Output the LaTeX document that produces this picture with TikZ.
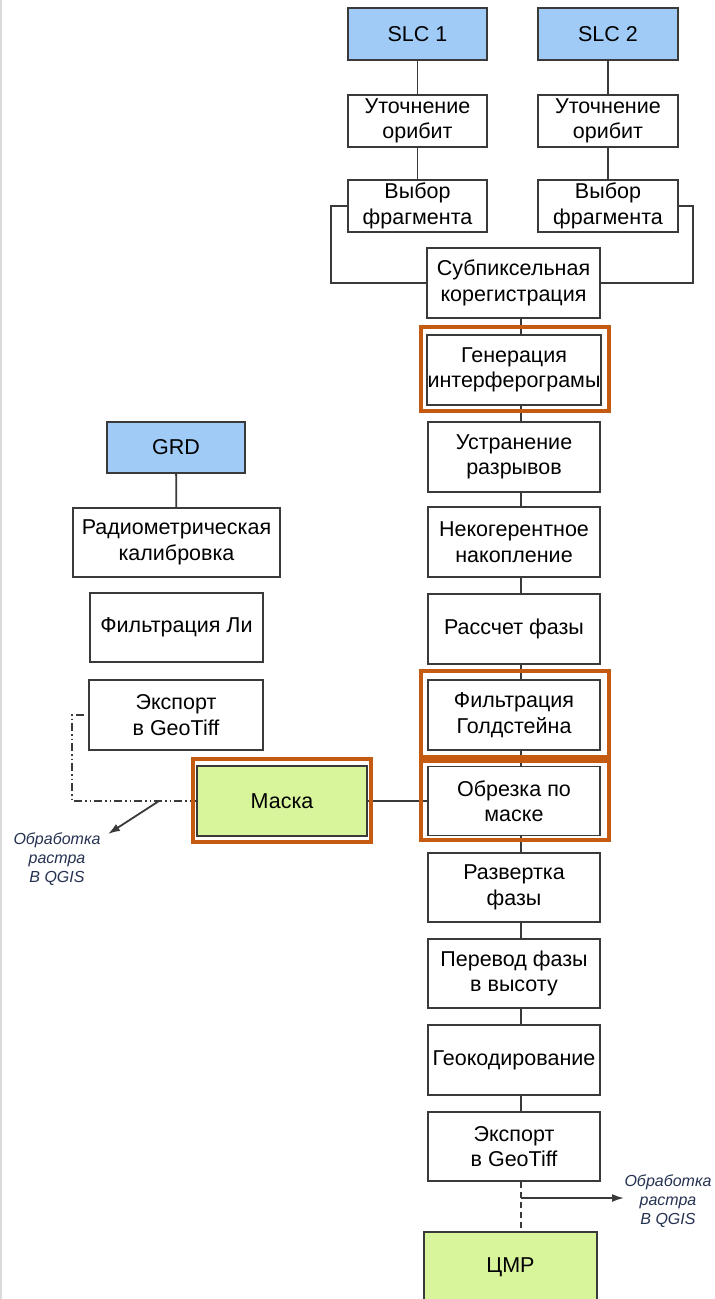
\documentclass[tikz,border=0pt]{standalone}
\usepackage{fontspec}
\setmainfont{Liberation Sans}
\usetikzlibrary{arrows.meta}
\definecolor{blu}{HTML}{A0CBF7}
\definecolor{grn}{HTML}{D8F59C}
\definecolor{org}{HTML}{C55A11}
\definecolor{edge}{HTML}{3A3A3A}
\definecolor{lbl}{HTML}{263252}
\begin{document}
\begin{tikzpicture}[x=1pt,y=-1pt,
  box/.style={draw=edge, line width=1.8pt, fill=white, align=center, inner sep=0pt,
              font=\fontsize{21.5}{25.5}\selectfont, text=black},
  wh/.style 2 args={minimum width=#1, minimum height=#2},
  src/.style={box, fill=blu},
  res/.style={box, fill=grn},
  hl/.style={draw=org, line width=3.2pt, inner sep=0pt},
  link/.style={draw=edge, line width=1.8pt},
  dd/.style={link, dash pattern=on 8pt off 3pt on 1.5pt off 3pt on 1.5pt off 3pt},
  dsh/.style={link, dash pattern=on 6pt off 4pt},
  arr/.style={link, -{Latex[length=12pt,width=8pt]}},
  note/.style={font=\fontsize{16}{19}\selectfont\itshape, text=lbl, align=center, inner sep=0pt},
]
\clip (0,0) rectangle (715,1299);
\fill[white] (0,0) rectangle (715,1299);
\draw[draw=black!15, line width=2pt] (1,0) -- (1,1299);

% top branches
\node[src, wh={139}{52}] (slc1) at (417.5,34) {SLC 1};
\node[src, wh={140}{52}] (slc2) at (608,34) {SLC 2};
\node[box, wh={139}{52}] (ut1) at (417.5,121) {Уточнение\\орибит};
\node[box, wh={140}{52}] (ut2) at (608,121) {Уточнение\\орибит};
\node[box, wh={139}{52}] (vb1) at (417.5,206) {Выбор\\фрагмента};
\node[box, wh={140}{52}] (vb2) at (608,206) {Выбор\\фрагмента};

% main column
\coordinate (mx) at (521,0);
\node[box, wh={173}{70}] (sub) at (513.5,283) {Субпиксельная\\корегистрация};
\node[box, wh={174}{70}] (gen) at (514,370) {Генерация\\интерферограмы};
\node[box, wh={172}{70}] (ust) at (514,457) {Устранение\\разрывов};
\node[box, wh={172}{70}] (nak) at (514,542) {Некогерентное\\накопление};
\node[box, wh={172}{70}] (ph) at (514,629) {Рассчет фазы};
\node[box, wh={172}{70}] (gold) at (514,715) {Фильтрация\\Голдстейна};
\node[box, wh={172}{69}] (cut) at (514,801) {Обрезка по\\маске};
\node[box, wh={172}{69}] (unw) at (514,887.5) {Развертка\\фазы};
\node[box, wh={172}{69}] (h2h) at (514,973.5) {Перевод фазы\\в высоту};
\node[box, wh={172}{70}] (geo) at (514,1060) {Геокодирование};
\node[box, wh={172}{69}] (exR) at (514,1146.5) {Экспорт\\в GeoTiff};
\node[res, wh={173}{70}] (dmr) at (510.5,1267) {ЦМР};

% left column
\node[src, wh={138}{51}] (grd) at (176,447.5) {GRD};
\node[box, wh={207}{69}] (rad) at (176.5,542.5) {Радиометрическая\\калибровка};
\node[box, wh={173}{69}] (li) at (176.5,627.5) {Фильтрация Ли};
\node[box, wh={174}{70}] (exL) at (176,715) {Экспорт\\в GeoTiff};
\node[res, wh={170}{70}] (mask) at (282,801) {Маска};

% labels
\node[note] (qL) at (57,859) {Обработка\\растра\\В QGIS};
\node[note] (qR) at (668,1201) {Обработка\\растра\\В QGIS};

% connectors
\draw[link] (slc1) -- (ut1);
\draw[link] (ut1) -- (vb1);
\draw[link] (slc2) -- (ut2);
\draw[link] (ut2) -- (vb2);
\draw[link] (vb1.west) -- ++(-16,0) |- (sub.west);
\draw[link] (vb2.east) -- ++(14,0) |- (sub.east);
\draw[link] (sub.south -| mx) -- (gen.north -| mx);
\draw[link] (gen.south -| mx) -- (ust.north -| mx);
\draw[link] (ust.south -| mx) -- (nak.north -| mx);
\draw[link] (nak.south -| mx) -- (ph.north -| mx);
\draw[link] (ph.south -| mx) -- (gold.north -| mx);
\draw[link] (gold.south -| mx) -- (cut.north -| mx);
\draw[link] (cut.south -| mx) -- (unw.north -| mx);
\draw[link] (unw.south -| mx) -- (h2h.north -| mx);
\draw[link] (h2h.south -| mx) -- (geo.north -| mx);
\draw[link] (geo.south -| mx) -- (exR.north -| mx);
\draw[dsh] (exR.south -| mx) -- (dmr.north -| mx);
\coordinate (aR) at (521,1198);
\coordinate (aRend) at (624,1198);
\draw[arr] (aR) -- (aRend);

\draw[link] (grd) -- (rad);
\draw[link] (mask.east) -- (cut.west);
\draw[dd] ([xshift=-4pt]exL.west) -- ++(-12,0) |- (mask.west);
\coordinate (aL) at (159,801);
\coordinate (aLend) at (108,834);
\draw[arr] (aL) -- (aLend);

% highlight frames
\node[hl, wh={188}{84}] (genhl) at (515,369) {};
\node[hl, wh={188}{86}] (goldhl) at (515,714) {};
\node[hl, wh={188}{79}] (cuthl) at (515,800.5) {};
\node[hl, wh={178}{83}] (maskhl) at (282,800.5) {};
\end{tikzpicture}
\end{document}
